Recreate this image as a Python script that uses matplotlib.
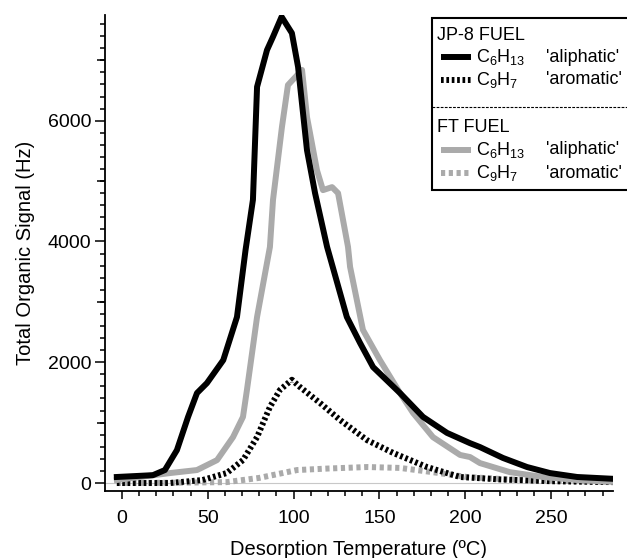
import numpy as np
import matplotlib
matplotlib.use('Agg')
from matplotlib import pyplot as plt
from matplotlib.ticker import MultipleLocator, NullFormatter
from matplotlib.lines import Line2D
from matplotlib.patches import Rectangle

plt.rcParams.update({'font.size': 14, 'font.family': 'Liberation Sans',
                     'mathtext.fontset': 'custom', 'mathtext.rm': 'Liberation Sans',
                     'mathtext.it': 'Liberation Sans:italic'})

# JP-8 fuel, C6H13 'aliphatic'
jp8_ali_t = [-3, 18, 25, 32, 38.5, 43.7, 49.5, 59, 67, 72, 76.3, 78.7, 84.5, 88, 93,
             99, 102.6, 107.8, 112.5, 119.5, 131, 138.7, 146.3, 162, 175.4, 189.4,
             202.8, 208.6, 222, 236, 249.4, 265.2, 286]
jp8_ali_s = [100, 130, 215, 545, 1095, 1490, 1655, 2035, 2750, 3860, 4690, 6560, 7170,
             7390, 7720, 7450, 6890, 5510, 4800, 3910, 2750, 2320, 1920, 1490, 1095, 830,
             660, 595, 415, 265, 165, 100, 70]

# JP-8 fuel, C9H7 'aromatic'
jp8_aro_t = [-3, 28, 47, 61, 70.5, 78.7, 86.2, 92, 99, 103.7, 115.4, 127, 142.8, 157.9,
             177.7, 197, 220, 250, 286]
jp8_aro_s = [0, 0, 50, 165, 380, 760, 1260, 1540, 1710, 1590, 1325, 1045, 710, 500,
             265, 100, 60, 30, 15]

# FT fuel, C6H13 'aliphatic'
ft_ali_t = [-3, 28, 43.7, 55.4, 64.7, 70.5, 72.8, 78.7, 86.2, 88, 93.2, 96.7, 104.9,
            107.8, 113.6, 117.1, 122.4, 125.9, 131.7, 132.9, 140.4, 150.3, 162, 169.6,
            181.2, 197, 202.8, 208.6, 226, 245.3, 265.2, 286]
ft_ali_s = [50, 165, 215, 380, 760, 1095, 1540, 2750, 3910, 4690, 5895, 6590, 6840,
            6060, 5180, 4850, 4900, 4800, 3910, 3580, 2535, 2035, 1490, 1160, 760, 465,
            430, 330, 180, 100, 50, 20]

# FT fuel, C9H7 'aromatic'
ft_aro_t = [-3, 30, 61, 80, 102, 120, 143, 162, 181, 201, 225, 250, 286]
ft_aro_s = [0, 5, 15, 85, 215, 240, 265, 250, 180, 100, 60, 40, 20]

black = 'black'
grey = '#aaaaaa'
lw = 4.3
blk_dots = (0.45, 0.45)
gry_dots = (0.7, 0.6)

W, H = 627, 558
fig = plt.figure(figsize=(W / 100, H / 100), dpi=100)
ax = fig.add_axes([105 / W, 1 - 491 / H, (613 - 105) / W, (491 - 15) / H])

ax.axhline(0, color='#c8c8c8', lw=0.8, zorder=0)
ax.plot(ft_aro_t, ft_aro_s, color=grey, lw=lw, dashes=gry_dots)
ax.plot(jp8_aro_t, jp8_aro_s, color=black, lw=lw, dashes=blk_dots)
ax.plot(ft_ali_t, ft_ali_s, color=grey, lw=lw)
ax.plot(jp8_ali_t, jp8_ali_s, color=black, lw=lw)

ax.set_xlim(-9.9, 286.1)
ax.set_ylim(-132, 7750)
for s in ['top', 'right']:
    ax.spines[s].set_visible(False)
for s in ['left', 'bottom']:
    ax.spines[s].set_linewidth(1.3)

ax.xaxis.set_major_locator(MultipleLocator(50))
ax.xaxis.set_minor_locator(MultipleLocator(10))
ax.yaxis.set_major_locator(MultipleLocator(2000))
ax.yaxis.set_minor_locator(MultipleLocator(200))
ax.tick_params(axis='y', which='major', length=7, width=1.1, direction='out', pad=3)
ax.tick_params(axis='x', which='major', length=6, width=1.1, direction='out', pad=8)
ax.tick_params(which='minor', length=3.6, width=1.1, direction='out')

# medium ticks at odd thousands
sec = ax.secondary_yaxis('left')
sec.set_yticks([1000, 3000, 5000, 7000])
sec.yaxis.set_major_formatter(NullFormatter())
sec.tick_params(length=5.8, width=1.1, direction='out')
sec.spines['left'].set_visible(False)

ax.set_xlabel('Desorption Temperature (ºC)', fontsize=14.5, labelpad=9)
ax.set_ylabel('Total Organic Signal (Hz)', fontsize=14.5, labelpad=9)


def fx(px):
    return px / W


def fy(py):
    return 1 - py / H


fig.patches.append(Rectangle((fx(432), fy(190)), fx(640) - fx(432), fy(18) - fy(190),
                             transform=fig.transFigure, facecolor='white',
                             edgecolor='black', lw=1.5, zorder=5))
fig.lines.append(Line2D([fx(432), fx(627)], [fy(107), fy(107)], transform=fig.transFigure,
                        color='black', lw=0.8, dashes=(2.5, 1.2), zorder=6))

fs = 13
entries = [
    (35, 'JP-8 FUEL', None, None, None),
    (57, r'$\mathregular{C_6H_{13}}$', "'aliphatic'", black, None),
    (80, r'$\mathregular{C_9H_7}$', "'aromatic'", black, blk_dots),
    (127, 'FT FUEL', None, None, None),
    (150, r'$\mathregular{C_6H_{13}}$', "'aliphatic'", grey, None),
    (173, r'$\mathregular{C_9H_7}$', "'aromatic'", grey, gry_dots),
]
for py, name, kind, col, dsh in entries:
    if col is None:
        fig.text(fx(437), fy(py), name, fontsize=fs, va='center', ha='left', zorder=7)
        continue
    ln = Line2D([fx(441), fx(471)], [fy(py), fy(py)], transform=fig.transFigure,
                color=col, lw=lw, zorder=7, solid_capstyle='butt')
    if dsh is not None:
        ln.set_dashes(dsh)
    fig.lines.append(ln)
    fig.text(fx(476), fy(py), name, fontsize=fs, va='center', ha='left', zorder=7)
    fig.text(fx(546), fy(py), kind, fontsize=fs, va='center', ha='left', zorder=7)

fig.savefig('out.png', dpi=100)
